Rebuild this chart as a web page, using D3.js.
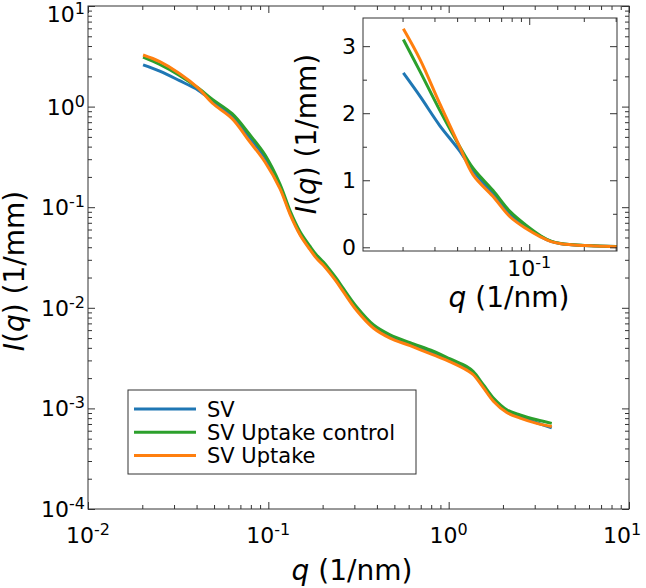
<!DOCTYPE html>
<html lang="en">
<head>
<meta charset="UTF-8">
<title>I(q) vs q</title>
<style>
  body { margin: 0; background: #fff; }
  text { font-family: "DejaVu Sans", sans-serif; fill: #000; }
  .tick line { stroke: #333; }
</style>
</head>
<body>
<div id="chart"></div>
<script src="https://d3js.org/d3.v7.min.js"></script>
<script>
// data
const qVals = [0.0202, 0.025, 0.032, 0.041, 0.049, 0.063, 0.078, 0.096, 0.116, 0.132,
               0.150, 0.170, 0.185, 0.202, 0.220, 0.239, 0.261, 0.309, 0.382, 0.473,
               0.611, 0.822, 1.02, 1.26, 1.37, 1.56, 1.77, 2.10, 2.49, 3.08, 3.73];
const svVals = [2.60, 2.25, 1.82, 1.45, 1.14, 0.80, 0.50, 0.31, 0.16, 0.088,
                0.054, 0.039, 0.032, 0.027, 0.0225, 0.0185, 0.0148, 0.0097, 0.0065, 0.0052,
                0.0043, 0.0035, 0.0030, 0.0025, 0.00223, 0.00164, 0.00121, 0.00093, 0.00082, 0.00072, 0.00064];
const ctrlVals = [3.10, 2.62, 2.05, 1.52, 1.18, 0.85, 0.54, 0.33, 0.170, 0.092,
                  0.057, 0.041, 0.0335, 0.0285, 0.0237, 0.0195, 0.0155, 0.0102, 0.0068, 0.0054,
                  0.0045, 0.0037, 0.0031, 0.0026, 0.00232, 0.00171, 0.00127, 0.00097, 0.00086, 0.00077, 0.00071];
const uptakeVals = [3.26, 2.80, 2.15, 1.52, 1.08, 0.76, 0.46, 0.28, 0.153, 0.085,
                    0.053, 0.038, 0.031, 0.0265, 0.0220, 0.0181, 0.0144, 0.0094, 0.0063, 0.0050,
                    0.0042, 0.0034, 0.0029, 0.0024, 0.00216, 0.00160, 0.00118, 0.00091, 0.00080, 0.00071, 0.00066];

const seriesNames = ["SV", "SV Uptake control", "SV Uptake"];
const seriesColors = ["#1f77b4", "#2ca02c", "#ff7f0e"];

const xMajor = [0.01, 0.1, 1, 10];
const xExp = ["-2", "-1", "0", "1"];
const yMajor = [1e-4, 1e-3, 1e-2, 1e-1, 1, 10];
const yExp = ["-4", "-3", "-2", "-1", "0", "1"];
const insetYMajor = [0, 1, 2, 3];
const insetYMinor = [0.5, 1.5, 2.5];
const insetXMajor = [0.1];
const insetXExp = ["-1"];
const insetXMinor = [0.02, 0.03, 0.04, 0.05, 0.06, 0.07, 0.08, 0.09, 0.2, 0.3];

const allSeries = [svVals, ctrlVals, uptakeVals].map((vals, i) => ({
  name: seriesNames[i], color: seriesColors[i],
  points: qVals.map((q, j) => [q, vals[j]])
}));

function minorOf(majors) {
  const out = [];
  majors.slice(0, -1).forEach(d => { for (let k = 2; k < 10; k++) out.push(k * d); });
  return out;
}

const W = 646, H = 588;
const svg = d3.select("#chart").append("svg")
  .attr("width", W).attr("height", H);
svg.append("rect").attr("width", W).attr("height", H).attr("fill", "#fff");

// main axes
const m = { left: 88, right: 629, top: 6, bottom: 509 };
const x = d3.scaleLog().domain([0.01, 10]).range([m.left, m.right]);
const y = d3.scaleLog().domain([1e-4, 10]).range([m.bottom, m.top]);

function drawTicks(g, xs, ys, box, xMaj, xMin, yMaj, yMin) {
  const pairs = [
    [d3.axisBottom(xs), `translate(0,${box.bottom})`, xMaj, xMin],
    [d3.axisTop(xs), `translate(0,${box.top})`, xMaj, xMin],
    [d3.axisLeft(ys), `translate(${box.left},0)`, yMaj, yMin],
    [d3.axisRight(ys), `translate(${box.right},0)`, yMaj, yMin]
  ];
  pairs.forEach(([ax, tr, maj, mins]) => {
    g.append("g").attr("transform", tr)
      .call(ax.tickValues(maj).tickSizeInner(-7).tickSizeOuter(0).tickFormat(""))
      .call(s => s.select(".domain").remove());
    g.append("g").attr("transform", tr)
      .call(ax.tickValues(mins).tickSizeInner(-4).tickSizeOuter(0).tickFormat(""))
      .call(s => s.select(".domain").remove());
  });
  g.append("rect")
    .attr("x", box.left).attr("y", box.top)
    .attr("width", box.right - box.left).attr("height", box.bottom - box.top)
    .attr("fill", "none").attr("stroke", "#333").attr("stroke-width", 1);
}

function powLabel(sel, exp) {
  sel.append("tspan").text("10");
  sel.append("tspan").attr("font-size", 16).attr("dy", -8).text(exp);
}

const main = svg.append("g");
main.append("clipPath").attr("id", "clipMain").append("rect")
  .attr("x", m.left).attr("y", m.top)
  .attr("width", m.right - m.left).attr("height", m.bottom - m.top);

const line = d3.line().x(d => x(d[0])).y(d => y(d[1])).curve(d3.curveCatmullRom.alpha(0.5));
main.append("g").attr("clip-path", "url(#clipMain)")
  .selectAll("path").data(allSeries).join("path")
  .attr("d", d => line(d.points))
  .attr("fill", "none").attr("stroke", d => d.color).attr("stroke-width", 3);

drawTicks(main, x, y, m, xMajor, minorOf(xMajor), yMajor, minorOf(yMajor));

main.selectAll(".xlab").data(xMajor).join("text")
  .attr("class", "xlab")
  .attr("x", d => Math.min(x(d), 622)).attr("y", 543)
  .attr("text-anchor", "middle").attr("font-size", 22)
  .each(function(d, i) { powLabel(d3.select(this), xExp[i]); });

main.selectAll(".ylab").data(yMajor).join("text")
  .attr("class", "ylab")
  .attr("x", 85).attr("y", d => Math.max(y(d) + 8, 22))
  .attr("text-anchor", "end").attr("font-size", 22)
  .each(function(d, i) { powLabel(d3.select(this), yExp[i]); });

const xTitle = main.append("text").attr("x", 352).attr("y", 580)
  .attr("text-anchor", "middle").attr("font-size", 28);
xTitle.append("tspan").attr("font-style", "italic").text("q");
xTitle.append("tspan").text(" (1/nm)");

const yTitle = main.append("text")
  .attr("transform", "translate(24,271) rotate(-90)")
  .attr("text-anchor", "middle").attr("font-size", 28);
yTitle.append("tspan").attr("font-style", "italic").text("I");
yTitle.append("tspan").text("(");
yTitle.append("tspan").attr("font-style", "italic").text("q");
yTitle.append("tspan").text(") (1/mm)");

// legend
const leg = main.append("g");
leg.append("rect").attr("x", 128).attr("y", 390).attr("width", 288).attr("height", 84)
  .attr("fill", "#fff").attr("stroke", "#333").attr("stroke-width", 1);
const legRows = leg.selectAll("g").data(allSeries).join("g")
  .attr("transform", (d, i) => `translate(0,${409 + i * 23.3})`);
legRows.append("line").attr("x1", 134).attr("x2", 196)
  .attr("stroke", d => d.color).attr("stroke-width", 3);
legRows.append("text").attr("x", 207).attr("y", 7.5)
  .attr("font-size", 21).text(d => d.name);

// inset
const n = { left: 363, right: 617, top: 18, bottom: 251 };
const xi = d3.scaleLog().domain([0.0121, 0.305]).range([n.left, n.right]);
const yi = d3.scaleLinear().domain([-0.055, 3.42]).range([n.bottom, n.top]);
const inset = svg.append("g");
inset.append("rect").attr("x", n.left).attr("y", n.top)
  .attr("width", n.right - n.left).attr("height", n.bottom - n.top).attr("fill", "#fff");
inset.append("clipPath").attr("id", "clipInset").append("rect")
  .attr("x", n.left).attr("y", n.top)
  .attr("width", n.right - n.left).attr("height", n.bottom - n.top);
const lineI = d3.line().x(d => xi(d[0])).y(d => yi(d[1])).curve(d3.curveCatmullRom.alpha(0.5));
inset.append("g").attr("clip-path", "url(#clipInset)")
  .selectAll("path").data(allSeries).join("path")
  .attr("d", d => lineI(d.points))
  .attr("fill", "none").attr("stroke", d => d.color).attr("stroke-width", 3);

drawTicks(inset, xi, yi, n, insetXMajor, insetXMinor, insetYMajor, insetYMinor);

inset.selectAll(".xlab").data(insetXMajor).join("text")
  .attr("class", "xlab")
  .attr("x", d => xi(d)).attr("y", 276)
  .attr("text-anchor", "middle").attr("font-size", 22)
  .each(function(d, i) { powLabel(d3.select(this), insetXExp[i]); });

inset.selectAll(".ylab").data(insetYMajor).join("text")
  .attr("class", "ylab")
  .attr("x", 356).attr("y", d => yi(d) + 8)
  .attr("text-anchor", "end").attr("font-size", 22)
  .text(d => d);

const xiTitle = inset.append("text").attr("x", 509).attr("y", 307)
  .attr("text-anchor", "middle").attr("font-size", 28);
xiTitle.append("tspan").attr("font-style", "italic").text("q");
xiTitle.append("tspan").text(" (1/nm)");

const yiTitle = inset.append("text")
  .attr("transform", "translate(316,134) rotate(-90)")
  .attr("text-anchor", "middle").attr("font-size", 28);
yiTitle.append("tspan").attr("font-style", "italic").text("I");
yiTitle.append("tspan").text("(");
yiTitle.append("tspan").attr("font-style", "italic").text("q");
yiTitle.append("tspan").text(") (1/mm)");
</script>
</body>
</html>
